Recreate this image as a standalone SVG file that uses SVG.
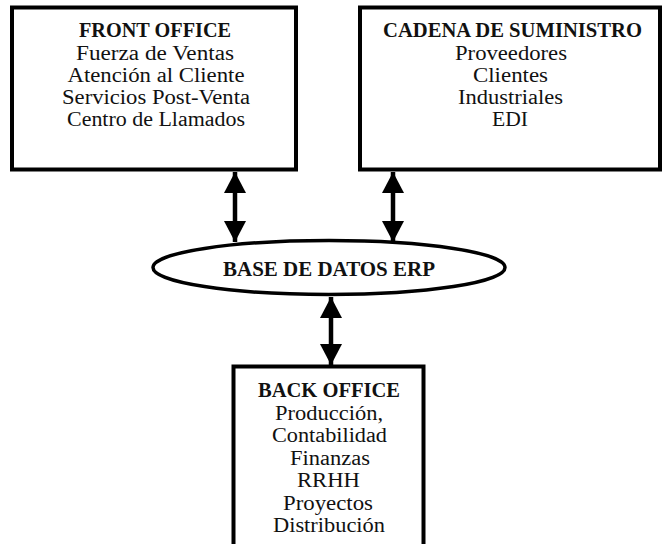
<svg xmlns="http://www.w3.org/2000/svg" width="663" height="544" viewBox="0 0 663 544">
<style>
.box{fill:#fff;stroke:#000;stroke-width:4}
.ell{fill:#fff;stroke:#000;stroke-width:3.5}
text{font-family:"Liberation Serif","Times New Roman",serif;fill:#111;text-anchor:middle}
.b{font-weight:bold;font-size:20px}
.r{font-size:20.5px}
.shaft{stroke:#000;stroke-width:4.5;fill:none}
</style>
<defs>
<marker id="ah" markerUnits="userSpaceOnUse" markerWidth="24" markerHeight="22" refX="22" refY="11.5" orient="auto-start-reverse" viewBox="0 0 22 23">
<path d="M0,0 L22,11.5 L0,23 Z" fill="#000"/>
</marker>
</defs>
<rect width="663" height="544" fill="#fff"/>
<g id="connectors">
<line class="shaft" x1="235" y1="172" x2="235" y2="242" marker-start="url(#ah)" marker-end="url(#ah)"/>
<line class="shaft" x1="393" y1="172" x2="393" y2="242" marker-start="url(#ah)" marker-end="url(#ah)"/>
<line class="shaft" x1="331" y1="297" x2="331" y2="365" marker-start="url(#ah)" marker-end="url(#ah)"/>
</g>
<g id="front-office">
<rect class="box" x="12" y="7.5" width="284" height="162"/>
<text class="b" x="155" y="37" textLength="152" lengthAdjust="spacingAndGlyphs">FRONT OFFICE</text>
<text class="r" x="155" y="59.5" textLength="158" lengthAdjust="spacingAndGlyphs">Fuerza de Ventas</text>
<text class="r" x="156" y="82" textLength="177" lengthAdjust="spacingAndGlyphs">Atención al Cliente</text>
<text class="r" x="156" y="104" textLength="188" lengthAdjust="spacingAndGlyphs">Servicios Post-Venta</text>
<text class="r" x="156" y="126" textLength="178" lengthAdjust="spacingAndGlyphs">Centro de Llamados</text>
</g>
<g id="cadena">
<rect class="box" x="360" y="7.5" width="300" height="162"/>
<text class="b" x="512.5" y="37" textLength="259" lengthAdjust="spacingAndGlyphs">CADENA DE SUMINISTRO</text>
<text class="r" x="511" y="59.5" textLength="112" lengthAdjust="spacingAndGlyphs">Proveedores</text>
<text class="r" x="510.5" y="82" textLength="75" lengthAdjust="spacingAndGlyphs">Clientes</text>
<text class="r" x="510.5" y="104" textLength="105" lengthAdjust="spacingAndGlyphs">Industriales</text>
<text class="r" x="510" y="126" textLength="36" lengthAdjust="spacingAndGlyphs">EDI</text>
</g>
<g id="base-datos">
<ellipse class="ell" cx="329" cy="267.5" rx="176" ry="27"/>
<text class="b" x="329" y="276" textLength="212" lengthAdjust="spacingAndGlyphs">BASE DE DATOS ERP</text>
</g>
<g id="back-office">
<rect class="box" x="233.5" y="366.5" width="190" height="190"/>
<text class="b" x="329" y="397" textLength="142" lengthAdjust="spacingAndGlyphs">BACK OFFICE</text>
<text class="r" x="329" y="420" textLength="108" lengthAdjust="spacingAndGlyphs">Producción,</text>
<text class="r" x="329.5" y="442" textLength="115" lengthAdjust="spacingAndGlyphs">Contabilidad</text>
<text class="r" x="330" y="465" textLength="80" lengthAdjust="spacingAndGlyphs">Finanzas</text>
<text class="r" x="328.5" y="487" textLength="63" lengthAdjust="spacingAndGlyphs">RRHH</text>
<text class="r" x="328" y="510" textLength="90" lengthAdjust="spacingAndGlyphs">Proyectos</text>
<text class="r" x="329" y="532" textLength="112" lengthAdjust="spacingAndGlyphs">Distribución</text>
</g>
</svg>
